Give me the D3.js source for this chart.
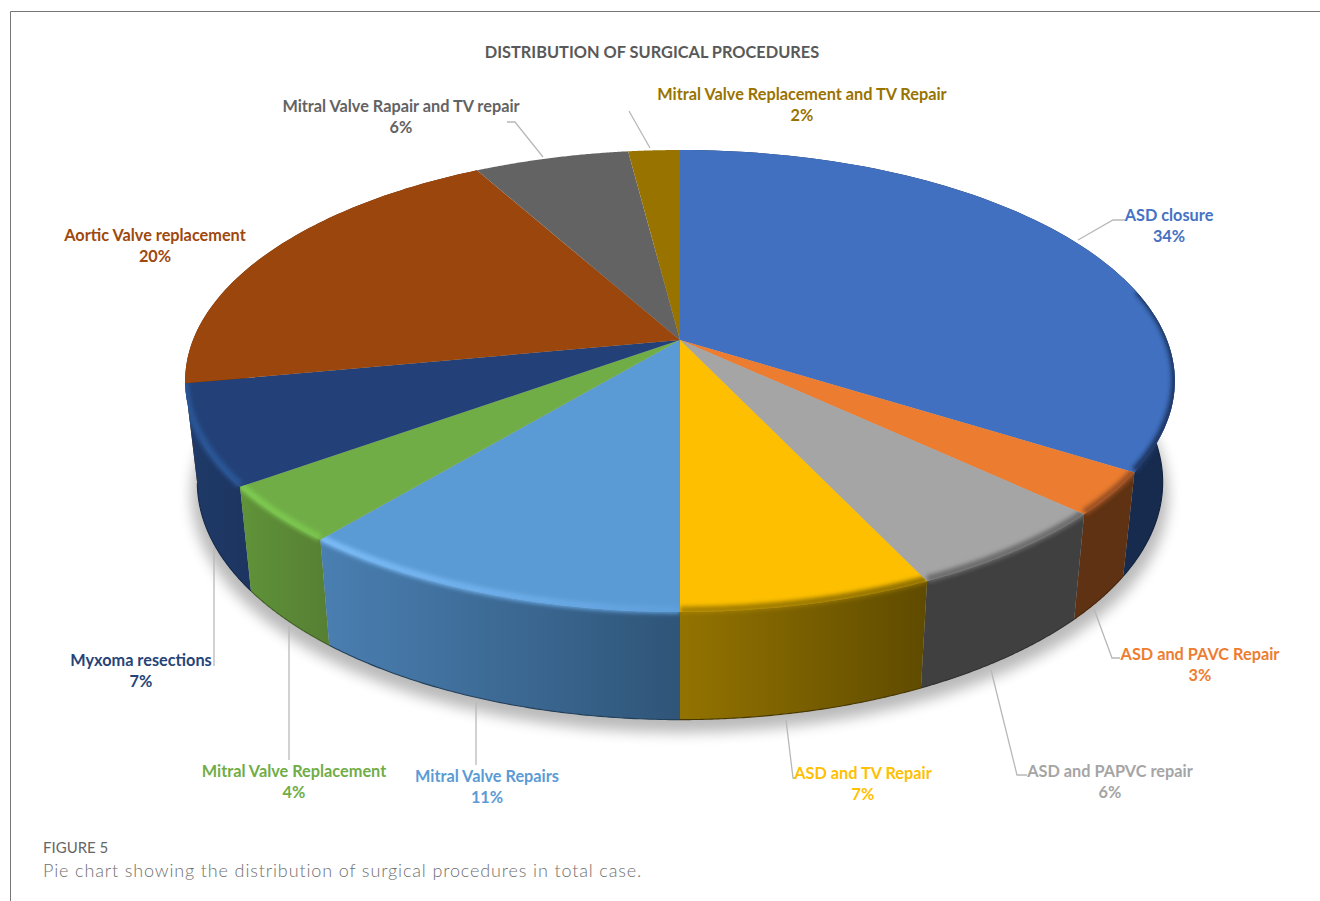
<!DOCTYPE html>
<html>
<head>
<meta charset="utf-8">
<script src="https://cdnjs.cloudflare.com/ajax/libs/d3/7.8.5/d3.min.js"></script>
<style>
html,body{margin:0;padding:0;background:#fff}
svg{display:block}
text{font-family:Lato,"Open Sans",sans-serif}
</style>
</head>
<body>
<svg id="chart" width="1320" height="901"></svg>
<script>
// Share of each surgical procedure, percent of total cases
const procedures = ["ASD closure","ASD and PAVC Repair","ASD and PAPVC repair","ASD and TV Repair","Mitral Valve Repairs","Mitral Valve Replacement","Myxoma resections","Aortic Valve replacement","Mitral Valve Rapair and TV repair","Mitral Valve Replacement and TV Repair"];
const shares = [34,3,6,7,11,4,7,20,6,2];

const topColors  = ["#4170c0","#eb7c30","#a5a5a5","#fdbf00","#5b9bd5","#70ad47","#234178","#9b460c","#636363","#997300"];
const textColors = ["#4472c4","#ed7d31","#a5a5a5","#ffc000","#5b9bd5","#70ad47","#264478","#9e480e","#636363","#997300"];
const sideStops  = [["#172b4f","#172b4f"],["#5e3212","#5e3212"],["#404040","#404040"],["#937300","#5f4b00"],["#4a7fb2","#2f5578"],["#609339","#567f33"],["#1f3a69","#1d3560"],["#5c2a08","#5c2a08"],["#3b3b3b","#3b3b3b"],["#5b4500","#5b4500"]];
const rimStops   = [["#1e3560","#1e3560"],["#9a5020","#9a5020"],["#6a6a6a","#6a6a6a"],["#a58000","#8c6e00"],["#7cbdf9","#5f9fdb"],["#7ecb51","#7ac44e"],["#2b5798","#2b5798"],null,null,null];

// Label placement: centre x, first line y, and leader polyline
const labelLayout = [
  {x:1169,y:216,leader:[[1078,240],[1113,220],[1125,220]]},
  {x:1200,y:655,leader:[[1094,609],[1112,658],[1120,658]]},
  {x:1110,y:772,leader:[[991,670],[1017,775],[1027,775]]},
  {x:863, y:774,leader:[[786,720],[793,778],[795,778]]},
  {x:487, y:777,leader:[[476,703],[476,765]]},
  {x:294, y:772,leader:[[289,626],[289,760]]},
  {x:141, y:661,leader:[[214,547],[214,666]]},
  {x:155, y:236,leader:null},
  {x:401, y:107,leader:[[543,157],[515,122],[507,122]]},
  {x:802, y:95, leader:[[650,148],[629,111]]}
];

const svg = d3.select("#chart");
const defs = svg.append("defs");

// Frame lines along the top and left of the figure
svg.append("path").attr("d","M10.5,901V11.5H1320").attr("fill","none").attr("stroke","#777").attr("stroke-width",1);

// Perspective disc: top face and the smaller, lower bottom face
const faces = [
  {b:487,a:223.7,y0:340},
  {b:475,a:230,y0:440}
];
const cx = 680, tilt = 0.1775;
function project(t, level){
  const f = faces[level], X = Math.sin(t), Y = -Math.cos(t), w = 1 - tilt*Y;
  return [cx + f.b*X/w, f.y0 + f.a*Y/w];
}
const rim = (t0,t1,level) => d3.range(0,81).map(i => project(t0+(t1-t0)*i/80, level));
const line = d3.line();

const arcs = d3.pie().sort(null).value(d => d)(shares);

function blur(id, sd){
  defs.append("filter").attr("id",id).attr("x","-20%").attr("y","-20%").attr("width","140%").attr("height","140%")
    .append("feGaussianBlur").attr("stdDeviation",sd);
}
blur("soft",7);
blur("rimBlur",2.2);

function hGradient(id, stops){
  const g = defs.append("linearGradient").attr("id",id).attr("x1",0).attr("x2",1).attr("y1",0).attr("y2",0);
  g.append("stop").attr("offset",0).attr("stop-color",stops[0]);
  g.append("stop").attr("offset",1).attr("stop-color",stops[1]);
}

// Cast shadow under the disc
svg.append("path")
  .attr("d", line(rim(0,2*Math.PI,1).map(p => [cx+(p[0]-cx)*1.012, p[1]+13])))
  .attr("fill","#000").attr("opacity",.27).attr("filter","url(#soft)");

// Extruded wall, back slices first so the front ones overlap them
const sideQuad = d => line(rim(d.startAngle,d.endAngle,0).concat(rim(d.startAngle,d.endAngle,1).reverse()))+"Z";
const wedge = d => line([[cx,faces[0].y0]].concat(rim(d.startAngle,d.endAngle,0)))+"Z";
const depth = d => -Math.cos((d.startAngle+d.endAngle)/2);
const frontFirst = arcs.map((d,i)=>({d,i})).sort((p,q)=>depth(p.d)-depth(q.d));

arcs.forEach((d,i) => {
  hGradient("side"+i, sideStops[i]);
  if(rimStops[i]) hGradient("rim"+i, rimStops[i]);
  const clip = defs.append("clipPath").attr("id","clip"+i);
  clip.append("path").attr("d",wedge(d));
  clip.append("path").attr("d",sideQuad(d));
});

svg.append("g").selectAll("path").data(frontFirst.filter(o => depth(o.d) > -0.5)).join("path")
  .attr("d", o => sideQuad(o.d))
  .attr("fill", o => `url(#side${o.i})`);

// Dark line along the lower edge of the wall
svg.append("g").selectAll("path").data(frontFirst.filter(o => depth(o.d) > -0.5)).join("path")
  .attr("d", o => line(rim(Math.max(o.d.startAngle,1.45),Math.min(o.d.endAngle,4.53),1)))
  .attr("fill","none").attr("stroke-width",1.1)
  .attr("stroke", o => d3.color(sideStops[o.i][1]).darker(.8));

// Top face
svg.append("g").selectAll("path").data(arcs).join("path")
  .attr("d", wedge)
  .attr("fill",(d,i)=>topColors[i]);

// Soft bevel along the front rim of the top face
const bevel = svg.append("g");
arcs.forEach((d,i) => {
  if(!rimStops[i]) return;
  const start = Math.max(d.startAngle, 1.35), end = Math.min(d.endAngle, 4.53);
  bevel.append("g").attr("clip-path",`url(#clip${i})`)
    .append("path")
    .attr("d", line(rim(start,end,0).map(p=>[p[0],p[1]-2])))
    .attr("fill","none").attr("stroke",`url(#rim${i})`).attr("stroke-width",7)
    .attr("filter","url(#rimBlur)");
});

// Leaders
svg.append("g").selectAll("path").data(labelLayout.filter(l=>l.leader)).join("path")
  .attr("d", l => line(l.leader))
  .attr("fill","none").attr("stroke","#b8b8b8").attr("stroke-width",1.3);

// Category name with its percentage beneath
const labels = svg.append("g").attr("font-weight",700).attr("font-size",16.3).attr("text-anchor","middle");
procedures.forEach((name,i) => {
  const l = labelLayout[i];
  const g = labels.append("g").attr("fill",textColors[i]);
  g.append("text").attr("x",l.x).attr("y",l.y+5).text(name);
  g.append("text").attr("x",l.x).attr("y",l.y+26).text(shares[i]+"%");
});

svg.append("text").attr("x",652).attr("y",58).attr("text-anchor","middle")
  .attr("font-weight",700).attr("font-size",16.35).attr("fill","#595959")
  .text("DISTRIBUTION OF SURGICAL PROCEDURES");

svg.append("text").attr("x",43).attr("y",853).attr("font-size",15).attr("fill","#666")
  .text("FIGURE 5");
svg.append("text").attr("x",43).attr("y",877).attr("font-size",18).attr("fill","#707070").attr("font-weight",300)
  .style("letter-spacing","0.86px")
  .text("Pie chart showing the distribution of surgical procedures in total case.");
</script>
</body>
</html>
